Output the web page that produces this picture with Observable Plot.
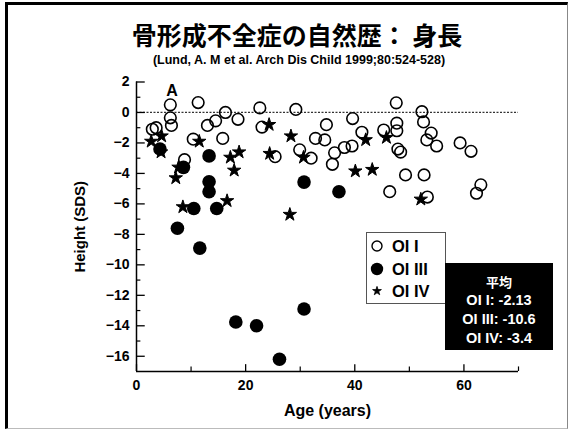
<!DOCTYPE html>
<html>
<head>
<meta charset="utf-8">
<script src="https://cdn.jsdelivr.net/npm/d3@7"></script>
<script src="https://cdn.jsdelivr.net/npm/@observablehq/plot@0.6"></script>
<style>
  body { margin: 0; background: #fff; width: 570px; height: 430px; position: relative; overflow: hidden; }
  .abs { position: absolute; }
</style>
</head>
<body>
<div class="abs" style="left:5px;top:2px;width:559px;height:423px;border-left:3px solid #000;border-top:3px solid #000;border-right:1px solid #888;border-bottom:1px solid #bbb;"></div>
<div class="abs" id="title" style="left:0;top:19px;width:570px;padding-left:24px;box-sizing:border-box;text-align:center;font-family:'Noto Sans CJK JP';font-weight:bold;font-size:25px;line-height:30px;">骨形成不全症の自然歴： 身長</div>
<div class="abs" id="subtitle" style="left:0;top:53px;width:570px;padding-left:28px;box-sizing:border-box;text-align:center;font-family:'Liberation Sans',Arial,sans-serif;font-weight:bold;font-size:12.5px;line-height:14px;">(Lund, A. M et al. Arch Dis Child 1999;80:524-528)</div>
<div class="abs" id="chart" style="left:0;top:70px;"></div>
<div class="abs" id="legend" style="left:366px;top:232px;width:78px;height:70px;border:1px solid #555;background:#fff;"></div>
<div class="abs" id="means" style="left:445px;top:263px;width:108px;height:87px;background:#000;color:#fff;text-align:center;font-family:'Liberation Sans',Arial,sans-serif;font-weight:bold;font-size:14.5px;line-height:19px;box-sizing:border-box;padding-top:9px;"></div>
<script>
// ---- data ----
const oi1 = [
  [2.9,-1.1],[3.6,-1.0],[6.2,0.5],[6.2,-0.35],[6.4,-0.85],[11.3,0.65],[13.0,-0.85],[14.5,-0.55],
  [16.3,0.0],[18.6,-0.45],[15.8,-1.7],[10.4,-1.75],[8.8,-3.1],[22.6,0.3],[23.0,-0.96],[25.4,-2.9],
  [29.2,0.2],[29.9,-2.45],[32.0,-3.0],[34.8,-0.8],[39.6,-0.4],[41.3,-1.3],[45.3,-1.15],[32.8,-1.7],
  [34.5,-1.8],[36.3,-2.65],[38.1,-2.3],[39.5,-2.2],[35.9,-3.4],[46.4,-5.2],[47.6,0.63],[52.3,0.05],
  [52.6,-0.62],[47.7,-0.7],[47.7,-1.2],[54.0,-1.35],[53.2,-1.8],[55.0,-2.2],[59.3,-2.0],[61.3,-2.55],
  [47.9,-2.4],[48.4,-2.6],[49.3,-4.1],[52.7,-4.1],[53.3,-5.55],[63.1,-4.75],[62.3,-5.3]
];
const oi3 = [
  [4.3,-2.4],[8.6,-3.6],[13.3,-2.85],[13.3,-4.55],[13.3,-5.2],[10.5,-6.3],[14.7,-6.3],[7.5,-7.6],
  [11.6,-8.9],[18.2,-13.75],[22.0,-14.0],[26.2,-16.2],[30.7,-12.9],[30.7,-4.57],[37.1,-5.2]
];
const oi4 = [
  [2.7,-1.9],[4.6,-1.55],[4.5,-2.6],[7.2,-4.3],[7.7,-3.6],[8.5,-6.2],[11.5,-1.9],[16.6,-5.8],
  [17.2,-2.95],[18.8,-2.6],[17.9,-3.8],[24.3,-0.8],[28.3,-1.55],[24.4,-2.7],[28.1,-6.7],[30.6,-2.95],
  [42.0,-1.8],[45.8,-1.65],[40.1,-3.85],[43.2,-3.75],[52.1,-5.7]
];
const xMajor = [0, 20, 40, 60];
const xMinor = [10, 30, 50, 70];
const yMajor = [2, 0, -2, -4, -6, -8, -10, -12, -14, -16];
const yMinor = [1, -1, -3, -5, -7, -9, -11, -13, -15];
const groups = ["OI I", "OI III", "OI IV"];
const meanTitle = "平均";
const means = [-2.13, -10.6, -3.4];
const panelLabel = [{x: 6.5, y: 1.45, text: "A"}];

const font = "'Liberation Sans', Arial, sans-serif";

const chart = Plot.plot({
  width: 570,
  height: 360,
  marginLeft: 136,
  marginRight: 52,
  marginTop: 11.5,
  marginBottom: 59,
  style: {fontFamily: font, background: "transparent", overflow: "visible"},
  x: {domain: [0, 70]},
  y: {domain: [-17, 2]},
  marks: [
    Plot.ruleY([0], {x1: 0, x2: 70, stroke: "#333", strokeWidth: 1.2, strokeDasharray: "2,1.5"}),
    Plot.ruleX([0], {y1: -17, y2: 2, stroke: "#000", strokeWidth: 1.5}),
    Plot.ruleY([-17], {x1: 0, x2: 70, stroke: "#000", strokeWidth: 1.5}),
    Plot.ruleY(yMajor, {x1: 0, x2: 1.6, stroke: "#000", strokeWidth: 1.3}),
    Plot.ruleY(yMinor, {x1: 0, x2: 0.8, stroke: "#000", strokeWidth: 1.2}),
    Plot.ruleX(xMajor, {y1: -17, y2: -16.55, stroke: "#000", strokeWidth: 1.3}),
    Plot.ruleX(xMinor, {y1: -17, y2: -16.7, stroke: "#000", strokeWidth: 1.2}),
    Plot.axisY({ticks: yMajor, tickSize: 0, tickPadding: 7, fontSize: 14, fontWeight: "bold", label: null}),
    Plot.axisX({ticks: xMajor, tickSize: 0, tickPadding: 9, fontSize: 14, fontWeight: "bold", label: null}),
    Plot.text(["Age (years)"], {frameAnchor: "bottom", dy: 39, lineAnchor: "middle", fontSize: 16, fontWeight: "bold"}),
    Plot.text(["Height (SDS)"], {frameAnchor: "left", dx: -56, rotate: -90, lineAnchor: "middle", textAnchor: "middle", fontSize: 15, fontWeight: "bold"}),
    Plot.text(panelLabel, {x: "x", y: "y", text: "text", fontSize: 16, fontWeight: "bold"}),
    Plot.dot(oi1, {x: d => d[0], y: d => d[1], r: 5.8, stroke: "#000", strokeWidth: 1.6, fill: "none"}),
    Plot.dot(oi3, {x: d => d[0], y: d => d[1], r: 6.8, fill: "#000", stroke: "none"}),
    Plot.dot(oi4, {x: d => d[0], y: d => d[1], r: 4.2, symbol: "star", fill: "#000", stroke: "#000", strokeWidth: 1})
  ]
});
document.getElementById("chart").appendChild(chart);

// legend
const ns = "http://www.w3.org/2000/svg";
const lg = document.createElementNS(ns, "svg");
lg.setAttribute("width", 78); lg.setAttribute("height", 70);
const rowsY = [13, 36, 58];
const sym = [
  `<circle cx="10" cy="${rowsY[0]}" r="5" fill="none" stroke="#000" stroke-width="1.4"/>`,
  `<circle cx="10" cy="${rowsY[1]}" r="6.2" fill="#000"/>`,
  `<path transform="translate(10,${rowsY[2]})" d="${d3.symbol(d3.symbolStar, 24)()}" fill="#000" stroke="#000" stroke-width="0.8"/>`
];
lg.innerHTML = groups.map((g, i) => sym[i] +
  `<text x="25" y="${rowsY[i]}" dy="0.36em" font-family="${font.replace(/'/g, "")}" font-weight="bold" font-size="16.5">${g}</text>`).join("");
document.getElementById("legend").appendChild(lg);

// means box
document.getElementById("means").innerHTML =
  `<div style="font-family:'Noto Sans CJK JP';font-size:13px">${meanTitle}</div>` +
  groups.map((g, i) => `<div>${g}: ${means[i]}</div>`).join("");
</script>
</body>
</html>
